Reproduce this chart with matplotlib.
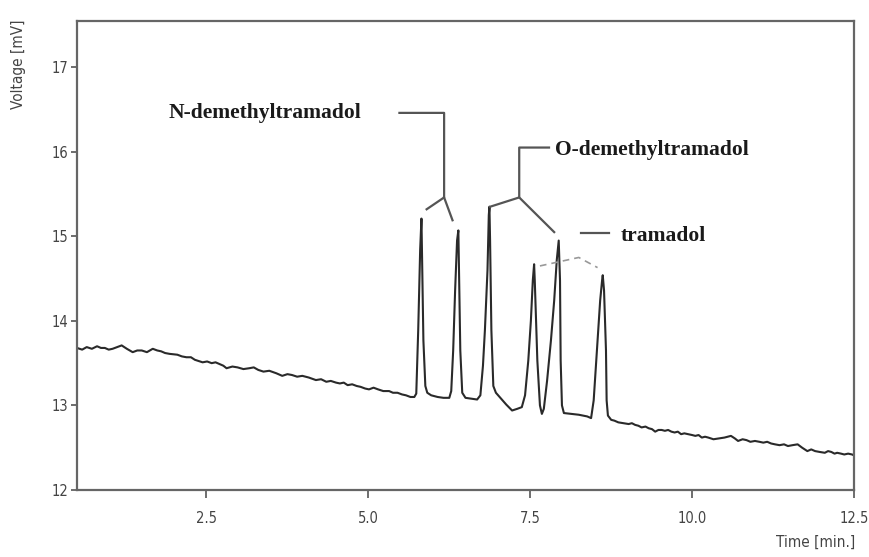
import matplotlib
matplotlib.use("Agg")
import matplotlib.pyplot as plt

# chromatogram trace: time [min] and voltage [mV]
time_min = [
    0.50, 0.58, 0.65, 0.73, 0.81, 0.87, 0.93, 0.99, 1.05, 1.12, 1.19, 1.27, 1.36,
    1.43, 1.50, 1.58, 1.67, 1.74, 1.80, 1.86, 1.93, 2.05, 2.12, 2.19, 2.26, 2.32,
    2.44, 2.51, 2.58, 2.64, 2.70, 2.76, 2.81, 2.90, 2.98, 3.07, 3.16, 3.23, 3.30,
    3.38, 3.47, 3.58, 3.67, 3.75, 3.82, 3.90, 3.98, 4.08, 4.19, 4.27, 4.35, 4.42,
    4.50, 4.56, 4.62, 4.68, 4.75, 4.82, 4.88, 4.95, 5.01, 5.08, 5.15, 5.23, 5.32,
    5.38, 5.45, 5.52, 5.58, 5.65,
    # peaks
    5.71, 5.74, 5.77, 5.80, 5.82, 5.83, 5.85, 5.88, 5.91, 5.97, 6.07, 6.16, 6.25,
    6.28, 6.31, 6.34, 6.37, 6.39, 6.40, 6.42, 6.45, 6.50, 6.59, 6.68, 6.73, 6.77,
    6.80, 6.84, 6.86, 6.87, 6.88, 6.90, 6.93, 6.97, 7.05, 7.13, 7.22, 7.30, 7.37,
    7.42, 7.47, 7.51, 7.54, 7.56, 7.57, 7.61, 7.65, 7.68, 7.71, 7.76, 7.82, 7.87,
    7.91, 7.94, 7.96, 7.97, 7.99, 8.02, 8.13, 8.25, 8.38, 8.44, 8.48, 8.53, 8.58,
    8.61, 8.62, 8.64, 8.67, 8.68, 8.70, 8.75,
    # tail
    8.80, 8.86, 8.94, 9.02, 9.07, 9.12, 9.17, 9.22, 9.28, 9.33, 9.38, 9.43, 9.48,
    9.53, 9.58, 9.63, 9.68, 9.73, 9.78, 9.83, 9.88, 9.94, 10.00, 10.05, 10.10,
    10.15, 10.20, 10.25, 10.33, 10.42, 10.50, 10.60, 10.66, 10.71, 10.78, 10.84,
    10.90, 10.97, 11.04, 11.10, 11.16, 11.22, 11.28, 11.35, 11.42, 11.48, 11.55,
    11.63, 11.70, 11.78, 11.84, 11.90, 11.97, 12.05, 12.10, 12.15, 12.20, 12.24,
    12.30, 12.35, 12.41, 12.47, 12.50,
]
voltage_mv = [
    13.68, 13.66, 13.69, 13.67, 13.70, 13.68, 13.68, 13.66, 13.67, 13.69, 13.71, 13.67, 13.63,
    13.65, 13.65, 13.63, 13.67, 13.65, 13.64, 13.62, 13.61, 13.60, 13.58, 13.57, 13.57, 13.54,
    13.51, 13.52, 13.50, 13.51, 13.49, 13.47, 13.44, 13.46, 13.45, 13.43, 13.44, 13.45, 13.42,
    13.40, 13.41, 13.38, 13.35, 13.37, 13.36, 13.34, 13.35, 13.33, 13.30, 13.31, 13.28, 13.29,
    13.27, 13.26, 13.27, 13.24, 13.25, 13.23, 13.22, 13.20, 13.19, 13.21, 13.19, 13.17, 13.17,
    13.15, 13.15, 13.13, 13.12, 13.10,
    # peaks
    13.10, 13.14, 13.89, 14.84, 15.21, 14.72, 13.77, 13.23, 13.15, 13.12, 13.10, 13.09, 13.09,
    13.17, 13.65, 14.36, 14.95, 15.07, 14.60, 13.65, 13.15, 13.09, 13.08, 13.07, 13.12, 13.47,
    13.89, 14.60, 15.25, 15.35, 14.95, 13.89, 13.23, 13.15, 13.08, 13.01, 12.94, 12.96, 12.98,
    13.12, 13.53, 14.00, 14.48, 14.67, 14.48, 13.53, 13.00, 12.90, 12.96, 13.29, 13.77, 14.24,
    14.72, 14.95, 14.48, 13.53, 13.00, 12.91, 12.90, 12.89, 12.87, 12.85, 13.06, 13.65, 14.24,
    14.48, 14.54, 14.36, 13.65, 13.06, 12.88, 12.83,
    # tail
    12.82, 12.80, 12.79, 12.78, 12.79, 12.77, 12.76, 12.74, 12.75, 12.73, 12.72, 12.69, 12.71,
    12.71, 12.70, 12.71, 12.69, 12.68, 12.69, 12.66, 12.67, 12.66, 12.65, 12.64, 12.65,
    12.62, 12.63, 12.62, 12.60, 12.61, 12.62, 12.64, 12.61, 12.58, 12.60, 12.59,
    12.57, 12.58, 12.57, 12.56, 12.57, 12.55, 12.54, 12.53, 12.54, 12.52, 12.53,
    12.54, 12.50, 12.46, 12.48, 12.46, 12.45, 12.44, 12.46, 12.45, 12.43, 12.44,
    12.43, 12.42, 12.43, 12.42, 12.41,
]

x_ticks = [2.5, 5.0, 7.5, 10.0, 12.5]
x_tick_labels = ["2.5", "5.0", "7.5", "10.0", "12.5"]
y_ticks = [12, 13, 14, 15, 16, 17]

# peak labels: text, text anchor (t, mV)
peak_names = ["N-demethyltramadol", "O-demethyltramadol", "tramadol"]
name_pos = [(1.91, 16.46), (7.88, 16.02), (8.90, 15.00)]

# leader lines (t, mV) for each label
leader_n = ([5.48, 6.17, 6.17, 5.90], [16.46, 16.46, 15.46, 15.32])
leader_n_right = ([6.17, 6.30], [15.46, 15.19])
leader_o = ([7.79, 7.33, 7.33, 6.88], [16.05, 16.05, 15.46, 15.35])
leader_o_right = ([7.33, 7.87], [15.46, 15.05])
leader_t = ([8.28, 8.71], [15.04, 15.04])
dashed_t = ([7.65, 8.25, 8.54], [14.65, 14.75, 14.63])

fig = plt.figure(figsize=(8.69, 5.57), dpi=100)
ax = fig.add_axes([0.0886, 0.1203, 0.8941, 0.8425])

ax.plot(time_min, voltage_mv, color="#2a2a2a", linewidth=1.5)

line_kw = dict(color="#555555", linewidth=1.6, clip_on=False)
for xs, ys in [leader_n, leader_n_right, leader_o, leader_o_right, leader_t]:
    ax.plot(xs, ys, **line_kw)
ax.plot(dashed_t[0], dashed_t[1], color="#999999", linewidth=1.2, linestyle=(0, (4, 3)))

for name, (tx, ty) in zip(peak_names, name_pos):
    ax.text(tx, ty, name, ha="left", va="center", fontsize=15.5,
            fontweight="bold", family="Liberation Serif", color="#1a1a1a")

ax.set_xlim(0.5, 12.5)
ax.set_ylim(12, 17.55)
ax.set_xticks(x_ticks)
ax.set_xticklabels(x_tick_labels)
ax.set_yticks(y_ticks)

tick_font = "DejaVu Sans"
for lab in ax.get_xticklabels() + ax.get_yticklabels():
    lab.set_family(tick_font)
    lab.set_stretch("condensed")
    lab.set_fontsize(10.5)
    lab.set_color("#444444")

ax.tick_params(axis="x", direction="out", length=6, width=1.2, color="#555555", pad=9)
ax.tick_params(axis="y", direction="out", length=4, width=1.2, color="#555555", pad=2)

for sp in ax.spines.values():
    sp.set_color("#666666")
    sp.set_linewidth(1.6)

fig.text(0.021, 0.885, "Voltage [mV]", rotation=90, ha="center", va="center",
         fontsize=11, family=tick_font, stretch="condensed", color="#444444")
fig.text(0.984, 0.013, "Time [min.]", ha="right", va="bottom",
         fontsize=11, family=tick_font, stretch="condensed", color="#444444")

fig.savefig("out.png", dpi=100)
